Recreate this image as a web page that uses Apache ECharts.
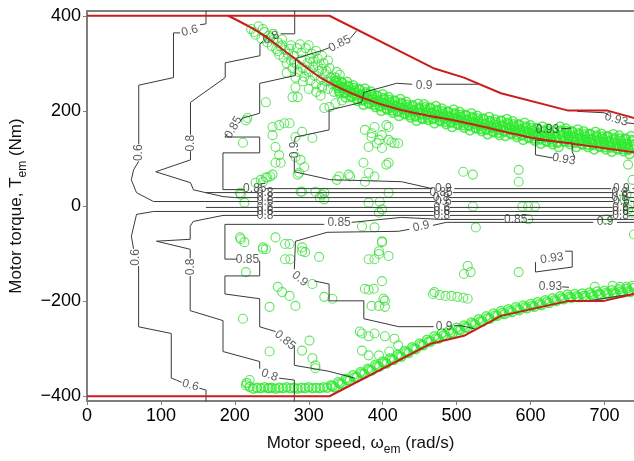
<!DOCTYPE html>
<html><head><meta charset="utf-8">
<script src="https://cdn.jsdelivr.net/npm/echarts@6/dist/echarts.min.js"></script>
<style>html,body{margin:0;padding:0;background:#fff}#c{width:634px;height:461px}</style>
</head><body><div id="c"></div>
<script>
const xTicks = [0,100,200,300,400,500,600,700];
const yTicks = [-400,-200,0,200,400];

// boundary (red) curves: [speed rad/s, torque Nm]
const redUpperOuter = [[0,400],[328,400],[470,289],[510,270],[560,237],[650,201],[703,201],[745,183]];
const redUpperInner = [[191,400],[234,364],[281,310],[318,268],[372,228],[425,202],[515,174],[604,143],[671,128],[745,112]];
const redLower = [[0,-400],[328,-400],[466,-289],[510,-273],[560,-231],[650,-200],[698,-200],[745,-183]];

// green operating points
const greenBandUpper = [
[336,270],[338,259],[340,248],[342,237],[344,261],[346,250],[348,239],[350,228],
[352,261],[354,250],[356,239],[358,229],[360,254],[362,243],[364,232],[366,221],
[368,246],[370,235],[372,224],[374,213],[376,247],[378,236],[380,225],[382,215],
[384,241],[386,230],[388,219],[390,208],[392,233],[394,222],[396,211],[398,200],
[400,235],[402,224],[404,213],[406,203],[408,229],[410,218],[412,207],[414,196],
[416,222],[418,211],[420,200],[422,189],[424,225],[426,214],[428,203],[430,193],
[432,219],[434,208],[436,197],[438,186],[440,212],[442,201],[444,190],[446,179],
[448,215],[450,204],[452,193],[454,183],[456,214],[458,203],[460,192],[462,181],
[464,207],[466,196],[468,185],[470,174],[472,210],[474,199],[476,188],[478,178],
[480,205],[482,194],[484,183],[486,172],[488,199],[490,188],[492,177],[494,166],
[496,203],[498,192],[500,181],[502,171],[504,198],[506,187],[508,176],[510,165],
[512,192],[514,181],[516,170],[518,159],[520,195],[522,184],[524,173],[526,163],
[528,190],[530,179],[532,168],[534,157],[536,184],[538,173],[540,162],[542,151],
[544,187],[546,176],[548,165],[550,155],[552,182],[554,171],[556,160],[558,149],
[560,180],[562,169],[564,158],[566,147],[568,183],[570,172],[572,161],[574,151],
[576,178],[578,167],[580,156],[582,145],[584,172],[586,161],[588,150],[590,139],
[592,175],[594,164],[596,153],[598,143],[600,170],[602,159],[604,148],[606,137],
[608,164],[610,153],[612,142],[614,131],[616,167],[618,156],[620,145],[622,135],
[624,163],[626,152],[628,141],[630,130],[632,157],[634,146],[636,135],[638,124],
[640,167],[642,156],[644,145],[646,135],[648,163],[650,152],[652,141],[654,130],
[656,157],[658,146],[660,135],[662,124],[664,161],[666,150],[668,139],[670,129],
[672,157],[674,146],[676,135],[678,124],[680,152],[682,141],[684,130],[686,119],
[688,156],[690,145],[692,134],[694,124],[696,152],[698,141],[700,130],[702,119],
[704,147],[706,136],[708,125],[710,114],[712,151],[714,140],[716,129],[718,119],
[720,148],[722,137],[724,126],[726,115],[728,142],[730,131],[732,120],[734,109],
[736,147],[738,136],[740,125],[742,115]];
const greenBandUpper2 = [
[337,264],[339,253],[341,242],[345,259],[347,248],[349,237],[353,253],[355,242],[357,231],
[361,248],[363,237],[365,226],[369,244],[371,233],[373,222],[377,239],[379,228],[381,217],
[385,235],[387,224],[389,213],[393,231],[395,220],[397,209],[401,227],[403,216],[405,205],
[409,223],[411,212],[413,201],[417,220],[419,209],[421,198],[425,217],[427,206],[429,195],
[433,213],[435,202],[437,191],[441,210],[443,199],[445,188],[449,207],[451,196],[453,185],
[457,208],[459,197],[461,186],[465,205],[467,194],[469,183],[473,202],[475,191],[477,180],
[481,199],[483,188],[485,177],[489,197],[491,186],[493,175],[497,195],[499,184],[501,173],
[505,192],[507,181],[509,170],[513,190],[515,179],[517,168],[521,187],[523,176],[525,165],
[529,184],[531,173],[533,162],[537,182],[539,171],[541,160],[545,179],[547,168],[549,157],
[553,176],[555,165],[557,154],[561,178],[563,167],[565,156],[569,175],[571,164],[573,153],
[577,172],[579,161],[581,150],[585,170],[587,159],[589,148],[593,167],[595,156],[597,145],
[601,164],[603,153],[605,142],[609,162],[611,151],[613,140],[617,159],[619,148],[621,137],
[625,157],[627,146],[629,135],[633,155],[635,144],[637,133],[641,159],[643,148],[645,137],
[649,157],[651,146],[653,135],[657,155],[659,144],[661,133],[665,153],[667,142],[669,131],
[673,151],[675,140],[677,129],[681,150],[683,139],[685,128],[689,148],[691,137],[693,126],
[697,146],[699,135],[701,124],[705,145],[707,134],[709,123],[713,143],[715,132],[717,121],
[721,142],[723,131],[725,120],[729,140],[731,129],[733,118],[737,139],[739,128],[741,117]];
const greenBlob = [
[222,372],[228,360],[232,378],[236,352],[240,366],[244,344],[246,358],[250,336],
[252,350],[256,330],[258,344],[260,318],[262,336],[266,312],[268,328],[270,300],
[272,320],[276,306],[278,290],[280,316],[284,298],[286,282],[288,340],[290,308],
[292,290],[294,272],[296,332],[298,300],[300,282],[302,264],[304,320],[306,292],
[308,274],[310,256],[312,310],[314,284],[316,266],[318,252],[320,300],[322,278],
[324,262],[326,246],[328,290],[330,270],[332,256],[334,240],[338,282],[342,276],
[252,362],[264,350],[276,338],[284,332],[300,338],[310,326],[318,316],[326,306],
[270,280],[282,270],[292,262],[300,246],[310,240],[316,232],
[226,366],[238,372],[248,354],[258,326],[264,338],[274,330],[280,302],[290,322],
[296,286],[302,310],[306,304],[312,296],[318,288],[324,284],[330,262],[336,262]];
const greenBandLower = [
[330,-377],[335,-381],[340,-370],[345,-374],[350,-363],[355,-367],[360,-356],[365,-360],
[370,-349],[375,-353],[380,-342],[385,-346],[390,-334],[395,-338],[400,-327],[405,-331],
[410,-320],[415,-324],[420,-313],[425,-317],[430,-305],[435,-309],[440,-297],[445,-301],
[450,-289],[455,-293],[460,-281],[465,-285],[470,-274],[475,-279],[480,-268],[485,-273],
[490,-262],[495,-267],[500,-256],[505,-261],[510,-251],[515,-256],[520,-245],[525,-249],
[530,-238],[535,-243],[540,-232],[545,-237],[550,-226],[555,-231],[560,-221],[565,-227],
[570,-217],[575,-223],[580,-213],[585,-219],[590,-209],[595,-215],[600,-206],[605,-212],
[610,-202],[615,-208],[620,-198],[625,-204],[630,-194],[635,-200],[640,-190],[645,-196],
[650,-186],[655,-193],[660,-185],[665,-192],[670,-184],[675,-191],[680,-182],[685,-189],
[690,-180],[695,-187],[700,-178],[705,-185],[710,-177],[715,-184],[720,-175],[725,-182],
[730,-174],[735,-181],[740,-172],
[332,-379],[342,-373],[352,-366],[362,-360],[372,-352],[382,-345],[392,-337],[402,-330],
[412,-323],[422,-316],[432,-308],[442,-300],[452,-292],[462,-285],[472,-278],[482,-272],
[492,-266],[502,-260],[512,-255],[522,-248],[532,-242],[542,-236],[552,-230],[562,-225],
[572,-221],[582,-217],[592,-213],[602,-210],[612,-206],[622,-202],[632,-198],[642,-194],
[652,-191],[662,-190],[672,-189],[682,-186],[692,-185],[702,-183],[712,-182],[722,-180],[732,-179]];
const greenBottomRow = [
[216,-372],[220,-380],[225,-384],[230,-382],[235,-383],[240,-381],[245,-383],[250,-382],
[255,-384],[260,-382],[265,-383],[270,-381],[275,-383],[280,-382],[285,-384],[290,-382],
[295,-383],[300,-381],[305,-383],[310,-382],[315,-383],[320,-381],[325,-382]];
const greenScattered = [
[217,185],[211,133],[242,218],[251,166],[260,170],[267,174],[274,174],[251,149],[255,124],
[260,107],[255,91],[262,91],[282,145],[291,156],[305,143],[282,103],[289,97],[294,82],
[287,70],[235,55],[242,60],[248,62],[228,49],[208,24],[309,30],[315,18],[341,62],[354,66],
[376,51],[389,62],[408,28],[318,24],[289,30],[376,160],[381,124],[389,166],[399,149],
[408,166],[395,139],[412,134],[421,132],[408,91],[385,145],[282,249],[285,229],[278,229],
[318,247],[321,206],[328,208],[336,216],[345,222],[215,180],[405,170],[385,153],[392,132],
[408,139],[416,132],[399,122],[374,91],[405,87],[381,70],[338,55],[509,72],[522,66],
[584,76],[584,51],[321,28],[244,60],[251,66],[285,66],[291,30],[321,14],[381,7],[396,9],
[356,62],[238,51],[213,7],[207,28],[522,-1],[589,-1],[597,-1],[606,-1],[597,-28],[703,-28],
[526,-45],[727,14],[734,3],[732,-7],[737,-14],[730,24],[740,-60],[732,87],[738,55],
[208,-70],[213,-76],[255,-66],[268,-80],[238,-91],[242,-91],[274,-80],[268,-112],[275,-112],
[215,-139],[258,-170],[264,-181],[274,-189],[282,-210],[247,-212],[211,-237],[247,-306],
[301,-283],[291,-304],[309,-335],[305,-320],[220,-366],[215,-377],[291,-95],[314,-107],
[305,-164],[321,-191],[332,-195],[381,-112],[389,-112],[395,-101],[399,-76],[408,-105],
[395,-95],[399,-158],[376,-174],[388,-174],[403,-199],[385,-210],[395,-210],[470,-181],
[372,-268],[381,-274],[389,-268],[403,-274],[416,-279],[372,-304],[381,-314],[395,-314],
[409,-306],[295,-97],[369,-264],[421,-293],[381,-176],[401,-195],[403,-212],[309,-341],
[515,-126],[519,-139],[510,-143],[468,-185],[477,-187],[485,-189],[493,-189],[501,-191],
[509,-193],[515,-195],[584,-139],[687,-170],[711,-168],[721,-170],[730,-170],[738,-168],
[291,-87],[399,-74],[372,-43],[389,-45],[399,-7],[395,-14],[207,-66],[238,-87],[247,-383]];

// efficiency contour polylines (data units), broken where labels sit
const contourLines = [
[[161,415],[161,383],[153,381]],
[[126,364],[117,364],[117,270],[70,254],[70,130]],
[[70,94],[63,76],[60,55],[67,28],[90,9.4],[231,9.4]],
[[252,9.4],[471,9.4]],[[493,9.4],[712,9.4]],[[735,9.4],[745,9.4]],
[[281,415],[281,362],[262,362]],
[[238,346],[234,341],[234,316],[187,301],[187,270],[140,218],[140,150]],
[[140,115],[140,97],[93,72],[140,49],[144,34],[184,19.8],[200,17.7],[231,17.7]],
[[252,17.7],[469,17.7]],[[490,17.7],[711,17.7]],[[732,17.7],[745,17.7]],
[[365,369],[356,352]],
[[328,333],[318,327],[282,310],[282,274.5],[233.6,257.8],[233.6,195],[210.7,184.8],[207,178]],
[[190,152],[186.6,145],[233.6,145],[233.6,111.7],[183.9,111.7],[183.9,34.4],[212,34.4]],
[[242,36.5],[467,36.5]],[[497,36.5],[709,36.5]],[[738,36.5],[745,36.5]],
[[161,28.2],[231,28.2]],[[252,28.2],[464,28.2]],[[495,28.2],[711,28.2]],[[732,28.2],[745,28.2]],
[[529,256],[472,256]],
[[440,256],[419,258],[374.5,239],[371.8,218],[327.5,201.5],[327.5,160],[282,145],[280.5,135]],
[[280.5,101],[280.5,72],[329,55.3],[425.5,51.1],[467,36.5]],
[[161,-3],[231,-3]],[[252,-3],[469,-3]],[[491,-3],[711,-3]],[[733,-3],[745,-3]],
[[90,-11.5],[231,-11.5]],[[252,-11.5],[469,-11.5]],[[491,-11.5],[711,-11.5]],[[733,-11.5],[745,-11.5]],
[[184,-19.8],[231,-19.8]],[[252,-19.8],[469,-19.8]],[[491,-19.8],[711,-19.8]],[[733,-19.8],[745,-19.8]],
[[90,-11.5],[67,-17.7],[60,-63.7],[63,-90]],
[[69.8,-126],[69.8,-254],[114,-268],[114,-362],[121,-366],[128,-371]],
[[152,-383],[161,-387],[161,-415]],
[[184,-19.8],[143.6,-32.4],[139.6,-42.8],[139.6,-70],[94,-74],[139.6,-91],[139.6,-110]],
[[139.6,-147],[139.6,-220],[184,-241],[184,-306],[233.6,-327],[233.6,-342]],
[[260,-362],[280.5,-366],[280.5,-415]],
[[745,-28.2],[596,-28.2]],
[[564,-28.2],[479,-28.2],[425.5,-24],[358,-34.4]],
[[321,-38.6],[186.6,-38.6],[186.6,-111.7],[203,-111.7]],
[[232,-113.8],[233.6,-116],[233.6,-147],[186.6,-147],[186.6,-185],[233.6,-195],[233.6,-254],[255,-264]],
[[280.5,-293],[280.5,-335],[327.5,-347.6],[362.4,-362]],
[[745,-34.4],[717,-34.4]],
[[685,-34.4],[486,-34.4],[468,-40.7]],
[[436,-49],[421.5,-53.2],[324.8,-55.3],[282,-74.1],[280.5,-133]],
[[307.4,-157.6],[327.5,-164],[327.5,-199.4],[374.5,-199.4],[374.5,-237],[421.5,-253.7],[469,-253.7]],
[[497,-251.6],[506,-251.6],[523.5,-257.8]],
[[641,162],[655,164]],
[[656.4,132.6],[606.7,138.8],[606.7,107.5],[630,101]],
[[660,103],[656.4,113.8],[656.4,132.6]],
[[663,199],[700,196],[707,190]],[[730,175],[745,172]],
[[606.7,-118],[606.7,-138.8],[656.4,-128.4],[656.4,-95],[647,-95]],
[[643,-170],[652,-171]],
[[680,-199],[721,-189],[745,-184]]
];

// contour labels: [speed, torque, text, rotation]
const contourLabels = [
[139,368,'0.6',15],[70,112,'0.6',90],[66,-108,'0.6',90],[140,-377,'0.6',-15],
[249,354,'0.8',25],[140,132,'0.8',90],[140,-128,'0.8',90],[247,-356,'0.8',-20],
[342,341,'0.85',27],[198,165,'0.85',60],[227,37,'0.85',0],
[217,-112,'0.85',0],[268,-282,'0.85',-40],[341,-35,'0.85',0],[580,-28,'0.85',0],
[456,254,'0.9',0],[280.5,118,'0.9',90],[288,-153,'0.9',-40],[452,-43,'0.9',12],
[483,-254,'0.9',0],[701,-34,'0.9',0],
[482,36.5,'0.9',0],[723,36.5,'0.9',0],
[241,28,'0.8',0],[479,28,'0.85',0],[721,28,'0.8',0],
[241,17.7,'0.8',0],[479,17.7,'0.8',0],[721,17.7,'0.8',0],
[241,9.4,'0.6',0],[482,9.4,'0.6',0],[723,9.4,'0.6',0],
[241,-3,'0.6',0],[480,-3,'0.6',0],[722,-3,'0.6',0],
[241,-11.5,'0.6',0],[480,-11.5,'0.6',0],[722,-11.5,'0.6',0],
[241,-19.8,'0.8',0],[480,-19.8,'0.8',0],[722,-19.8,'0.8',0],
[623,160,'0.93',0],[645,98,'0.93',-10],[716,182,'0.93',-15],
[629,-110,'0.93',8],[627,-170,'0.93',0]
];

const FONT = 'Liberation Sans, Arial, sans-serif';
const chart = echarts.init(document.getElementById('c'), null, {renderer:'canvas'});
const axisGray = '#7f7f7f';
const greenBands = [].concat(greenBandUpper, greenBandUpper2, greenBandLower, greenBottomRow);
const greenOther = [].concat(greenScattered, greenBlob);
const redStyle = {color:'#c81e1e', width:2};
const subRich = {
  m:{fontSize:17, fontFamily:FONT, color:'#111', padding:[0,0,4,0], verticalAlign:'bottom'},
  s:{fontSize:12, fontFamily:FONT, color:'#111', verticalAlign:'bottom'}};
chart.setOption({
  animation:false,
  backgroundColor:'#fff',
  grid:{left:83, right:0, top:11, bottom:58},
  xAxis:[{
    type:'value', min:0, max:740, position:'bottom',
    axisLine:{show:true, onZero:false, lineStyle:{color:axisGray, width:2}},
    axisTick:{show:true, length:4, customValues:xTicks, lineStyle:{color:axisGray}},
    axisLabel:{customValues:xTicks, fontSize:18, color:'#000', fontFamily:FONT, margin:6},
    splitLine:{show:false},
    name:'{m|Motor speed, ω}{s|em}{m| (rad/s)}', nameLocation:'middle', nameGap:34,
    nameTextStyle:{fontFamily:FONT, color:'#111', rich:subRich}
  },{
    type:'value', min:0, max:740, position:'top',
    axisLine:{show:true, onZero:false, lineStyle:{color:axisGray, width:2}},
    axisTick:{show:false}, axisLabel:{show:false}, splitLine:{show:false}
  }],
  yAxis:{
    type:'value', min:-410, max:410,
    axisLine:{show:true, onZero:false, lineStyle:{color:axisGray, width:2}},
    axisTick:{show:true, length:4, customValues:yTicks, lineStyle:{color:axisGray}},
    axisLabel:{customValues:yTicks, fontSize:18, color:'#000', fontFamily:FONT, margin:6,
      formatter:v=>String(v).replace('-','\u2212')},
    splitLine:{show:false},
    name:'{m|Motor torque, T}{s|em}{m| (Nm)}', nameLocation:'middle', nameGap:58,
    nameTextStyle:{fontFamily:FONT, color:'#111', rich:subRich}
  },
  series:[
    {type:'scatter', data:greenOther, symbol:'circle', symbolSize:9, silent:true, z:2,
     itemStyle:{color:'rgba(0,0,0,0)', borderColor:'#3ddf3d', borderWidth:1.1}},
    {type:'scatter', data:greenBands, symbol:'circle', symbolSize:9, silent:true, z:2,
     itemStyle:{color:'rgba(0,0,0,0)', borderColor:'#2ee82e', borderWidth:1.5}},
    {type:'lines', coordinateSystem:'cartesian2d', polyline:true, silent:true, z:3,
     data:contourLines.map(c=>({coords:c})), lineStyle:{color:'#3a3a3a', width:1, opacity:1}},
    {type:'scatter', symbolSize:0.1, silent:true, z:4, itemStyle:{color:'rgba(0,0,0,0)'},
     data:contourLabels.map(l=>({value:[l[0],l[1]], name:l[2], label:{rotate:l[3]}})),
     label:{show:true, position:'inside', formatter:'{b}', fontSize:12, color:'#333', fontFamily:FONT}},
    {type:'line', data:redUpperOuter, showSymbol:false, silent:true, z:5, lineStyle:redStyle},
    {type:'line', data:redUpperInner, showSymbol:false, silent:true, z:5, smooth:0.3, lineStyle:redStyle},
    {type:'line', data:redLower, showSymbol:false, silent:true, z:5, lineStyle:redStyle}
  ]
});
</script></body></html>
